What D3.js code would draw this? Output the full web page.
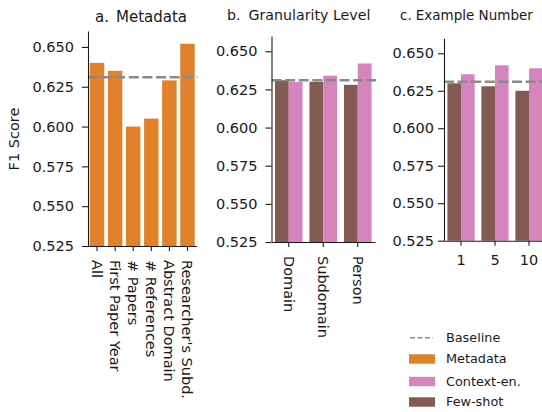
<!DOCTYPE html>
<html>
<head>
<meta charset="utf-8">
<script src="https://cdn.jsdelivr.net/npm/d3@7"></script>
<style>
  html, body { margin: 0; padding: 0; background: #fff; }
  svg { display: block; font-family: "DejaVu Sans", sans-serif; }
</style>
</head>
<body>
<svg id="chart" width="542" height="412"></svg>
<script>
// ---------------- data ----------------
const metaCats = ["All", "First Paper Year", "# Papers", "# References", "Abstract Domain", "Researcher's Subd."];
const metaVals = [0.640, 0.635, 0.600, 0.605, 0.629, 0.652];

const granCats = ["Domain", "Subdomain", "Person"];
const granFewShot = [0.631, 0.630, 0.628];
const granContext = [0.630, 0.634, 0.642];

const exCats = ["1", "5", "10"];
const exFewShot = [0.630, 0.628, 0.625];
const exContext = [0.636, 0.642, 0.640];

const baselineVal = 0.631;
const yTicks = [0.525, 0.550, 0.575, 0.600, 0.625, 0.650];
const yDomain = [0.525, 0.66];

const legendLabels = ["Baseline", "Metadata", "Context-en.", "Few-shot"];

// ---------------- style ----------------
const C_META = "#e1812c", C_CTX = "#d684bd", C_FEW = "#845b53", C_BASE = "#8a8a8a";
const TXT = "#1a1a1a";
const FS = 14.5;

const svg = d3.select("#chart");

function panel(opt) {
  const g = svg.append("g");
  const y = d3.scaleLinear().domain(yDomain).range([opt.y0, opt.y1]);
  const x = d3.scaleBand().domain(opt.cats).range([opt.x0, opt.x1]).paddingInner(0.2).paddingOuter(0.1);

  // bars
  if (opt.series.length === 1) {
    g.selectAll("rect.b").data(opt.cats).join("rect")
      .attr("x", d => x(d)).attr("width", x.bandwidth())
      .attr("y", (d, i) => y(opt.series[0].vals[i]))
      .attr("height", (d, i) => y(yDomain[0]) - y(opt.series[0].vals[i]))
      .attr("fill", opt.series[0].color);
  } else {
    const sub = d3.scaleBand().domain(opt.series.map((s, i) => i)).range([0, x.bandwidth()]);
    opt.series.forEach((s, si) => {
      g.selectAll("rect.s" + si).data(opt.cats).join("rect")
        .attr("x", d => x(d) + sub(si)).attr("width", sub.bandwidth())
        .attr("y", (d, i) => y(s.vals[i]))
        .attr("height", (d, i) => y(yDomain[0]) - y(s.vals[i]))
        .attr("fill", s.color);
    });
  }

  // baseline
  g.append("line")
    .attr("x1", opt.x0).attr("x2", opt.x1 + 1)
    .attr("y1", y(baselineVal)).attr("y2", y(baselineVal))
    .attr("stroke", C_BASE).attr("stroke-width", 2.6)
    .attr("stroke-dasharray", "10,3.6");

  // y axis
  const ya = g.append("g").attr("transform", `translate(${opt.x0},0)`)
    .call(d3.axisLeft(y).tickValues(yTicks).tickFormat(d3.format(".3f")).tickSize(6).tickPadding(opt.ypad).tickSizeOuter(0));
  ya.select(".domain").attr("stroke", TXT).attr("stroke-width", 1.1);
  ya.selectAll(".tick line").attr("stroke", TXT).attr("stroke-width", 1.1);
  ya.selectAll(".tick text").attr("font-size", FS).attr("fill", TXT).attr("font-family", "DejaVu Sans");

  // x axis
  const xa = g.append("g").attr("transform", `translate(0,${opt.y0})`)
    .call(d3.axisBottom(x).tickSize(5).tickSizeOuter(0));
  xa.select(".domain").attr("stroke", TXT).attr("stroke-width", 1.1);
  xa.selectAll(".tick line").attr("stroke", TXT).attr("stroke-width", 1.1);
  const xt = xa.selectAll(".tick text").attr("font-size", FS).attr("fill", TXT).attr("font-family", "DejaVu Sans");
  if (opt.rotate) {
    xt.attr("transform", "rotate(90)")
      .attr("text-anchor", "start")
      .attr("dy", "0.35em")
      .attr("x", opt.xlabOffset).attr("y", 0);
  } else {
    xt.attr("y", opt.xlabOffset).attr("dy", 0);
  }

  // title
  const t = g.append("text").attr("x", opt.titleX).attr("y", opt.titleY)
    .attr("font-size", opt.titleSize).attr("fill", TXT);
  t.append("tspan").text(opt.titleLetter);
  t.append("tspan").attr("dx", opt.titleGap).text(opt.titleText);
  return g;
}

panel({
  cats: metaCats, series: [{ vals: metaVals, color: C_META }],
  x0: 88, x1: 196.5, y0: 246, y1: 31, ypad: 8,
  rotate: true, xlabOffset: 14,
  titleX: 95, titleY: 22, titleSize: 15, titleGap: 7, titleLetter: "a.", titleText: "Metadata"
});

panel({
  cats: granCats, series: [{ vals: granFewShot, color: C_FEW }, { vals: granContext, color: C_CTX }],
  x0: 271.5, x1: 375, y0: 242, y1: 36, ypad: 8,
  rotate: true, xlabOffset: 14,
  titleX: 227, titleY: 20, titleSize: 14.2, titleGap: 8, titleLetter: "b.", titleText: "Granularity Level"
});

panel({
  cats: exCats, series: [{ vals: exFewShot, color: C_FEW }, { vals: exContext, color: C_CTX }],
  x0: 444, x1: 546, y0: 240.7, y1: 38.3, ypad: 4,
  rotate: false, xlabOffset: 24,
  titleX: 400, titleY: 20, titleSize: 13.5, titleGap: 4, titleLetter: "c.", titleText: "Example Number"
});

// y label
svg.append("text")
  .attr("transform", "translate(19,139) rotate(-90)")
  .attr("text-anchor", "middle")
  .attr("font-size", FS).attr("fill", TXT)
  .text("F1 Score");

// legend
const lg = svg.append("g");
const legendRowsY = [337.7, 359, 381.5, 402];
const legendColors = [null, C_META, C_CTX, C_FEW];
legendLabels.forEach((lab, i) => {
  const cy = legendRowsY[i];
  if (i === 0) {
    lg.append("line").attr("x1", 410).attr("x2", 433).attr("y1", cy).attr("y2", cy)
      .attr("stroke", C_BASE).attr("stroke-width", 1.6).attr("stroke-dasharray", "5,2.5");
  } else {
    lg.append("rect").attr("x", 409).attr("y", cy - 4.7).attr("width", 26).attr("height", 9.4)
      .attr("fill", legendColors[i]);
  }
  lg.append("text").attr("x", 446).attr("y", cy).attr("dy", "0.35em")
    .attr("font-size", 12.8).attr("fill", TXT).text(lab);
});
</script>
</body>
</html>
